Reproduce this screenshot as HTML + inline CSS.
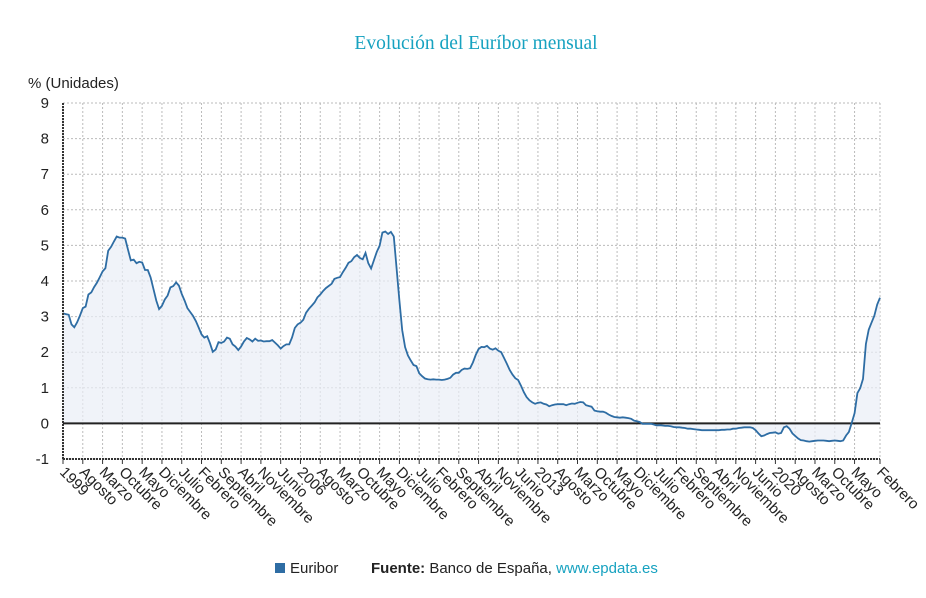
<!DOCTYPE html>
<html><head><meta charset="utf-8"><style>
body{margin:0;background:#fff;width:926px;height:593px;overflow:hidden;font-family:"Liberation Sans",sans-serif}
</style></head><body>
<svg id="chart" width="926" height="593" xmlns="http://www.w3.org/2000/svg" font-family="Liberation Sans, sans-serif">
<text x="476" y="49" text-anchor="middle" font-family="Liberation Serif, serif" font-size="19.5" fill="#17a2c0">Evolución del Euríbor mensual</text>
<text x="28" y="88" font-size="15" fill="#222">% (Unidades)</text>
<g id="grid"></g><g id="marks"></g><g id="axes"></g>
<g>
<rect x="275" y="563" width="10" height="10" fill="#2e6da4"/>
<text x="290" y="573" font-size="15" fill="#222">Euribor</text>
<text x="371" y="573" font-size="15" fill="#222"><tspan font-weight="bold">Fuente:</tspan> Banco de España, <tspan fill="#17a2c0">www.epdata.es</tspan></text>
</g>
</svg>
<script>
const yTicks=[-1,0,1,2,3,4,5,6,7,8,9];
const xLabels=["1999","Agosto","Marzo","Octubre","Mayo","Diciembre","Julio","Febrero","Septiembre","Abril","Noviembre","Junio","2006","Agosto","Marzo","Octubre","Mayo","Diciembre","Julio","Febrero","Septiembre","Abril","Noviembre","Junio","2013","Agosto","Marzo","Octubre","Mayo","Diciembre","Julio","Febrero","Septiembre","Abril","Noviembre","Junio","2020","Agosto","Marzo","Octubre","Mayo","Febrero"];
const xLabelMonths=[0,7,14,21,28,35,42,49,56,63,70,77,84,91,98,105,112,119,126,133,140,147,154,161,168,175,182,189,196,203,210,217,224,231,238,245,252,259,266,273,280,289];
const euribor=[
3.09,3.07,3.05,2.78,2.70,2.84,3.03,3.24,3.28,3.62,3.68,3.83,
3.95,4.11,4.27,4.36,4.85,4.96,5.11,5.25,5.22,5.22,5.19,4.88,
4.58,4.60,4.50,4.54,4.52,4.31,4.31,4.10,3.77,3.45,3.21,3.30,
3.48,3.59,3.82,3.86,3.96,3.87,3.64,3.45,3.24,3.13,3.02,2.87,
2.69,2.50,2.41,2.45,2.25,2.01,2.08,2.28,2.26,2.30,2.41,2.38,
2.22,2.16,2.06,2.16,2.30,2.40,2.36,2.30,2.38,2.32,2.33,2.30,
2.31,2.31,2.34,2.27,2.19,2.10,2.17,2.22,2.22,2.41,2.68,2.78,
2.83,2.91,3.11,3.22,3.31,3.40,3.54,3.62,3.72,3.80,3.86,3.92,
4.06,4.09,4.11,4.25,4.37,4.51,4.56,4.67,4.73,4.65,4.61,4.79,
4.50,4.35,4.59,4.82,4.99,5.36,5.39,5.32,5.38,5.25,4.35,3.45,
2.62,2.14,1.91,1.77,1.64,1.61,1.41,1.33,1.26,1.24,1.23,1.24,
1.23,1.23,1.22,1.23,1.25,1.28,1.37,1.42,1.42,1.50,1.54,1.53,
1.55,1.71,1.92,2.09,2.15,2.14,2.18,2.10,2.07,2.11,2.04,2.00,
1.84,1.68,1.50,1.37,1.27,1.22,1.06,0.88,0.74,0.65,0.59,0.55,
0.58,0.59,0.55,0.53,0.48,0.51,0.53,0.54,0.54,0.54,0.51,0.54,
0.56,0.55,0.58,0.60,0.59,0.51,0.49,0.47,0.36,0.34,0.33,0.33,
0.30,0.25,0.21,0.18,0.17,0.16,0.17,0.16,0.15,0.13,0.08,0.06,
0.04,-0.01,-0.01,-0.01,-0.01,-0.03,-0.06,-0.05,-0.06,-0.07,-0.07,-0.08,
-0.10,-0.11,-0.11,-0.12,-0.13,-0.15,-0.15,-0.16,-0.17,-0.18,-0.19,-0.19,
-0.19,-0.19,-0.19,-0.19,-0.19,-0.18,-0.18,-0.17,-0.17,-0.15,-0.15,-0.13,
-0.12,-0.11,-0.11,-0.11,-0.13,-0.19,-0.28,-0.36,-0.34,-0.30,-0.27,-0.26,
-0.25,-0.29,-0.27,-0.11,-0.08,-0.15,-0.28,-0.35,-0.42,-0.47,-0.48,-0.50,
-0.51,-0.50,-0.49,-0.48,-0.48,-0.48,-0.49,-0.50,-0.49,-0.48,-0.49,-0.50,
-0.48,-0.34,-0.24,0.01,0.29,0.85,0.99,1.25,2.23,2.63,2.83,3.02,
3.34,3.53];
const L=63,R=880,T=103,B=459,N=euribor.length;
const xs=i=>L+(R-L)*i/(N-1);
const ys=v=>B-(v+1)*(B-T)/10;
const NS="http://www.w3.org/2000/svg";
function mk(tag,attrs,parent){const e=document.createElementNS(NS,tag);for(const k in attrs)e.setAttribute(k,attrs[k]);parent.appendChild(e);return e;}
const grid=document.getElementById('grid'),marks=document.getElementById('marks'),axes=document.getElementById('axes');
yTicks.forEach(v=>{
 const g=mk('line',{x1:L,x2:R,y1:ys(v),y2:ys(v),stroke:'#bbb','stroke-dasharray':'2,2'},grid);
 
 
 const t=mk('text',{x:L-14,y:ys(v)+5,'text-anchor':'end','font-size':15,fill:'#222'},axes);
 t.textContent=v;
 
 
});
xLabelMonths.forEach((m,i)=>{
 const x=xs(m);
 const g=mk('line',{x1:x,x2:x,y1:T,y2:B,stroke:'#bbb','stroke-dasharray':'2,2'},grid);
 
 
 const tk=mk('line',{x1:x,x2:x,y1:B,y2:B+5,stroke:'#333'},axes);
 
 
 const t=mk('text',{x:x-4,y:B+14,'font-size':15,fill:'#222',transform:`rotate(45 ${x-4} ${B+14})`},axes);
 t.textContent=xLabels[i];
 
 
});
let d='';euribor.forEach((v,i)=>{d+=(i?'L':'M')+xs(i).toFixed(1)+','+ys(v).toFixed(1);});
const area=mk('path',{d:d+`L${xs(N-1)},${ys(0)}L${xs(0)},${ys(0)}Z`,fill:'#e9eef6','fill-opacity':0.7},marks);


const zl=mk('line',{x1:L,x2:R,y1:ys(0),y2:ys(0),stroke:'#222','stroke-width':2},marks);


const line=mk('path',{d:d,fill:'none',stroke:'#2e6da4','stroke-width':1.8},marks);


const ya=mk('line',{x1:L,x2:L,y1:T,y2:B,stroke:'#333','stroke-dasharray':'2,1','stroke-width':2},axes);


const xa=mk('line',{x1:L,x2:R,y1:B,y2:B,stroke:'#333','stroke-dasharray':'2,1','stroke-width':2},axes);


</script>
</body></html>
